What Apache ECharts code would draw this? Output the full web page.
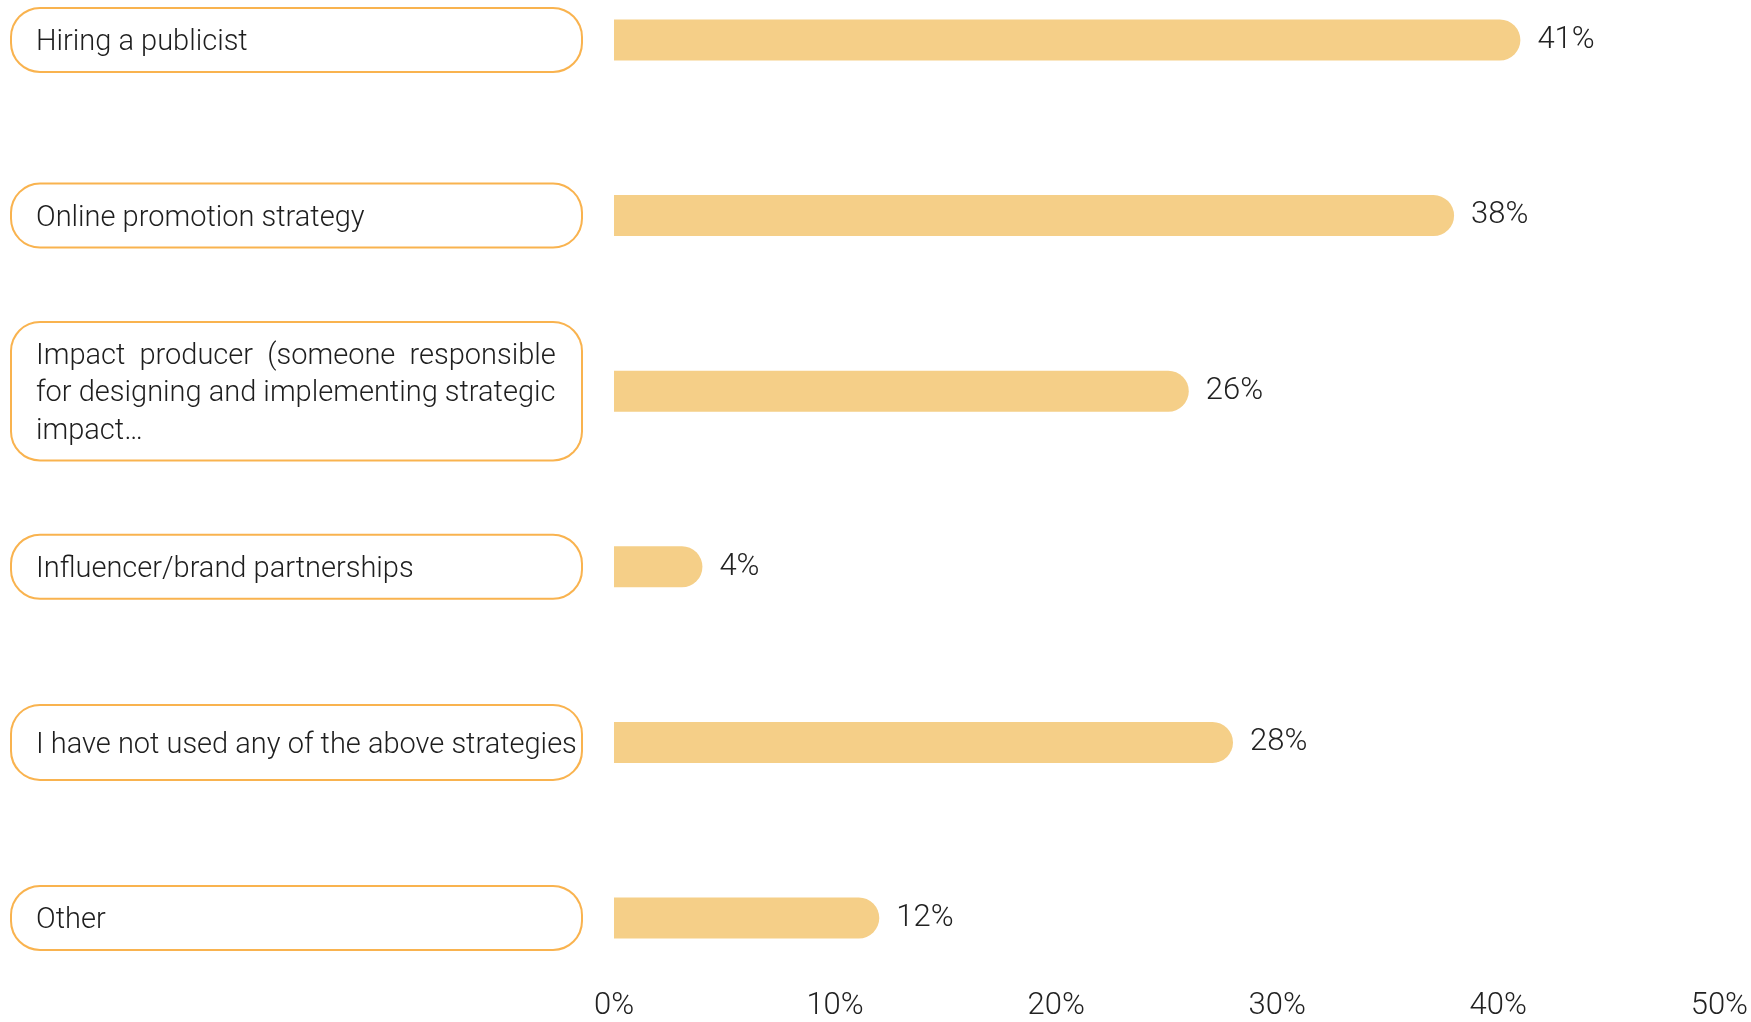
<!DOCTYPE html>
<html>
<head>
<meta charset="utf-8">
<script src="https://cdn.jsdelivr.net/npm/echarts@6/dist/echarts.min.js"></script>
<style>html,body{margin:0;padding:0;background:#fff;}#chart{width:1751px;height:1022px;}</style>
</head>
<body>
<div id="chart"></div>
<script>
var categories = [
  'Hiring a publicist',
  'Online promotion strategy',
  'Impact  producer  (someone  responsible\nfor designing and implementing strategic\nimpact…',
  'Influencer/brand partnerships',
  'I have not used any of the above strategies',
  'Other'
];
var values = [41, 38, 26, 4, 28, 12];
var tickLabels = ['0%', '10%', '20%', '30%', '40%', '50%'];

var chart = echarts.init(document.getElementById('chart'));
var font = 'Roboto, "Noto Sans", sans-serif';
var catStyle = { fontSize: 29, fontFamily: font, fontWeight: 300, color: '#1e1e1e' };
chart.setOption({
  animation: false,
  grid: { left: 614, right: 30, top: 40, bottom: 104, containLabel: false },
  xAxis: {
    type: 'value', min: 0, max: 50, interval: 10,
    axisLine: { show: false }, axisTick: { show: false }, splitLine: { show: false },
    axisLabel: {
      margin: 73, fontSize: 31, fontFamily: font, fontWeight: 300, color: '#222',
      formatter: function (v) { return tickLabels[Math.round(v / 10)]; }
    }
  },
  yAxis: {
    type: 'category', data: categories, inverse: true, boundaryGap: false,
    axisLine: { show: false }, axisTick: { show: false }, splitLine: { show: false },
    axisLabel: {
      margin: 602, align: 'left', verticalAlign: 'middle',
      fontSize: 29, fontFamily: font, fontWeight: 300, color: '#1e1e1e',
      lineHeight: 38, width: 525, overflow: 'none',
      backgroundColor: '#fff', borderColor: '#F9B34F', borderWidth: 2, borderRadius: 28,
      padding: [15, 20, 9, 24],
      formatter: function (v, i) {
        if (i === 2) return '{multi|' + v + '}';
        if (i === 4) return '{tall|' + v + '}';
        return '{n|' + v + '}';
      },
      rich: {
        n: Object.assign({ lineHeight: 38 }, catStyle),
        multi: Object.assign({ lineHeight: 37.5 }, catStyle),
        tall: Object.assign({ lineHeight: 49 }, catStyle)
      }
    }
  },
  series: [{
    type: 'bar', data: values, barWidth: 41,
    itemStyle: { color: '#F5CF88', borderRadius: [0, 21, 21, 0] },
    label: {
      show: true, position: 'right', distance: 17,
      fontSize: 31, fontFamily: font, fontWeight: 300, color: '#222',
      formatter: '{c}%'
    }
  }]
});
</script>
</body>
</html>
